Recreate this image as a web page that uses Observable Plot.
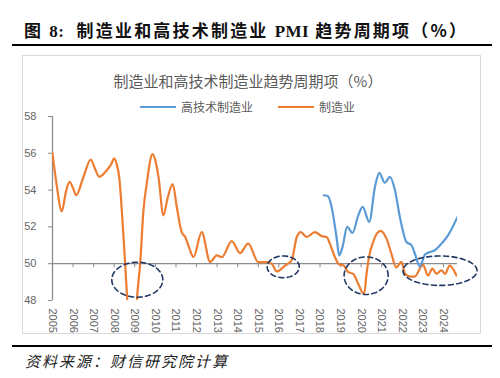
<!DOCTYPE html>
<html><head><meta charset="utf-8">
<script src="https://cdn.jsdelivr.net/npm/d3@7"></script>
<script src="https://cdn.jsdelivr.net/npm/@observablehq/plot@0.6"></script>
<style>
body{margin:0;width:500px;height:378px;position:relative;background:#fff;font-family:"Noto Sans CJK SC","Noto Sans",sans-serif;overflow:hidden}
#title{position:absolute;left:24px;top:21px;font-size:17px;line-height:17px;font-weight:bold;color:#111;white-space:nowrap;letter-spacing:2.2px}
#title .lat{font-family:"Liberation Serif",serif;letter-spacing:0.5px}
.rule{position:absolute;left:12px;width:480px;height:2px;background:#000}
#box{position:absolute;left:22px;top:55px;width:459px;height:279px;border:1px solid #d9d9d9;box-sizing:border-box}
#ctitle{position:absolute;left:0;width:496px;top:72.5px;text-align:center;font-size:15px;line-height:15px;color:#595959;white-space:nowrap}
.legtxt{position:absolute;top:100.5px;font-size:12px;line-height:12px;color:#595959;white-space:nowrap}
.legline{position:absolute;top:105.5px;width:36px;height:2.4px}
#plot{position:absolute;left:22px;top:108px}
#foot{position:absolute;left:25px;top:353px;font-size:15px;line-height:15px;font-style:italic;color:#222;letter-spacing:2px;white-space:nowrap}
</style></head>
<body>
<div id="title">图 <span class="lat">8:</span>&nbsp; 制造业和高技术制造业 <span class="lat">PMI</span> 趋势周期项（%）</div>
<div class="rule" style="top:43.5px"></div>
<div id="box"></div>
<div id="ctitle">制造业和高技术制造业趋势周期项（%）</div>
<div id="legend"></div>
<div id="plot"></div>
<div class="rule" style="top:345px"></div>
<div id="foot">资料来源：财信研究院计算</div>
<script>
// ---- data (decimal year, value in %) ----
const seriesNames = ["高技术制造业", "制造业"];
const seriesColors = ["#5B9BD5", "#ED7D31"];

const mfgTime = [2005.0,2005.2,2005.45,2005.65,2005.83,2006.0,2006.15,2006.5,2006.86,2007.05,2007.27,2007.64,2007.85,2008.0,2008.12,2008.24,2008.42,2008.53,2008.64,2008.8,2008.92,2009.02,2009.1,2009.26,2009.42,2009.58,2009.86,2010.0,2010.15,2010.39,2010.6,2010.84,2011.04,2011.28,2011.45,2011.6,2011.85,2012.25,2012.66,2012.98,2013.23,2013.71,2014.11,2014.51,2015.0,2015.4,2015.65,2015.9,2016.3,2016.62,2016.87,2017.06,2017.35,2017.75,2018.08,2018.32,2018.48,2018.72,2018.93,2019.13,2019.37,2019.61,2019.86,2020.1,2020.15,2020.26,2020.38,2020.58,2020.94,2021.23,2021.47,2021.7,2021.96,2022.13,2022.4,2022.6,2023.0,2023.25,2023.46,2023.66,2023.9,2024.08,2024.3,2024.63];
const mfgValue = [56.0,54.3,52.85,53.9,54.45,54.1,53.72,54.7,55.66,55.2,54.72,55.08,55.4,55.72,55.4,54.72,52.0,50.0,47.9,45.6,45.3,46.3,48.0,50.0,52.9,54.36,55.96,55.6,54.72,52.63,53.6,54.32,53.08,51.7,51.45,51.0,50.36,51.72,50.09,50.45,50.36,51.23,50.58,51.09,50.09,50.09,50.0,49.58,49.9,50.18,51.45,51.72,51.45,51.72,51.5,51.45,51.09,50.36,49.96,49.91,49.54,49.45,48.9,48.4,48.4,49.45,50.36,51.18,51.78,51.36,50.54,49.8,50.1,49.45,49.3,49.3,49.95,49.36,49.73,49.45,49.64,49.45,49.9,49.36];

const hiTime = [2018.18,2018.39,2018.56,2018.8,2018.93,2019.09,2019.32,2019.58,2019.85,2020.07,2020.39,2020.67,2020.88,2021.15,2021.4,2021.64,2021.88,2022.2,2022.45,2022.61,2022.85,2023.1,2023.34,2023.58,2023.9,2024.22,2024.68];
const hiValue = [53.72,53.67,53.09,51.45,50.45,50.9,52.0,51.67,52.6,53.09,52.27,54.18,54.94,54.4,54.72,54.0,52.54,51.18,51.0,50.54,49.85,50.5,50.63,50.73,51.09,51.54,52.54];

const yearTicks = [2005,2006,2007,2008,2009,2010,2011,2012,2013,2014,2015,2016,2017,2018,2019,2020,2021,2022,2023,2024];
const yTicks = [48,50,52,54,56,58];
const xDomain = [2005, 2024.68];
const yDomain = [48, 58];
const baseline = 50;

// dashed ellipse annotations: center year, center value, radius (years), radius (value)
const ellCx = [2009.12, 2016.21, 2020.24, 2023.83];
const ellCy = [49.13, 49.83, 49.35, 49.62];
const ellRx = [1.24, 0.78, 1.07, 1.80];
const ellRy = [0.95, 0.59, 1.02, 0.80];

// ---- build tables ----
const mfg = mfgTime.map((t, i) => ({t, v: mfgValue[i]}));
const hi = hiTime.map((t, i) => ({t, v: hiValue[i]}));
const ell = [];
ellCx.forEach((cx, k) => {
  for (let j = 0; j <= 72; j++) {
    const a = j / 72 * 2 * Math.PI;
    ell.push({id: k, t: cx + ellRx[k] * Math.cos(a), v: ellCy[k] + ellRy[k] * Math.sin(a)});
  }
});

// legend
const leg = document.getElementById("legend");
const legX = [140, 278];
seriesNames.forEach((n, i) => {
  const l = document.createElement("div");
  l.className = "legline"; l.style.left = legX[i] + "px"; l.style.background = seriesColors[i];
  leg.appendChild(l);
  const s = document.createElement("div");
  s.className = "legtxt"; s.style.left = (legX[i] + 41) + "px"; s.textContent = n;
  leg.appendChild(s);
});

const chart = Plot.plot({
  width: 460, height: 227,
  marginTop: 8, marginBottom: 35, marginLeft: 30, marginRight: 25,
  x: {domain: xDomain, label: null},
  y: {domain: yDomain, label: null},
  style: {fontFamily: "'Liberation Sans', sans-serif", fontSize: "11px", color: "#595959", background: "transparent", overflow: "visible"},
  marks: [
    Plot.axisY({ticks: yTicks, label: null, tickSize: 4, tickPadding: 12, stroke: "#8c8c8c", fill: "#666", tickFormat: d => String(d)}),
    Plot.axisX({ticks: yearTicks, label: null, tickSize: 0, tickPadding: 8, tickRotate: 90, fill: "#666", tickFormat: d => String(d)}),
    Plot.ruleX([xDomain[0]], {y1: yDomain[0], y2: yDomain[1], stroke: "#8c8c8c", strokeWidth: 1.3}),
    Plot.ruleY([baseline], {stroke: "#8c8c8c", strokeWidth: 1.3}),
    Plot.ruleX(yearTicks, {x: d => d, y1: baseline, y2: baseline - 0.22, stroke: "#8c8c8c"}),
    Plot.line(mfg, {x: "t", y: "v", stroke: seriesColors[1], strokeWidth: 2.2, curve: "monotone-x", clip: true}),
    Plot.line(hi, {x: "t", y: "v", stroke: seriesColors[0], strokeWidth: 2.2, curve: "monotone-x", clip: true}),
    Plot.line(ell, {x: "t", y: "v", z: "id", stroke: "#203864", strokeWidth: 1.6, strokeDasharray: "5,3.5", curve: "linear"})
  ]
});
document.getElementById("plot").appendChild(chart);
</script>
</body></html>
